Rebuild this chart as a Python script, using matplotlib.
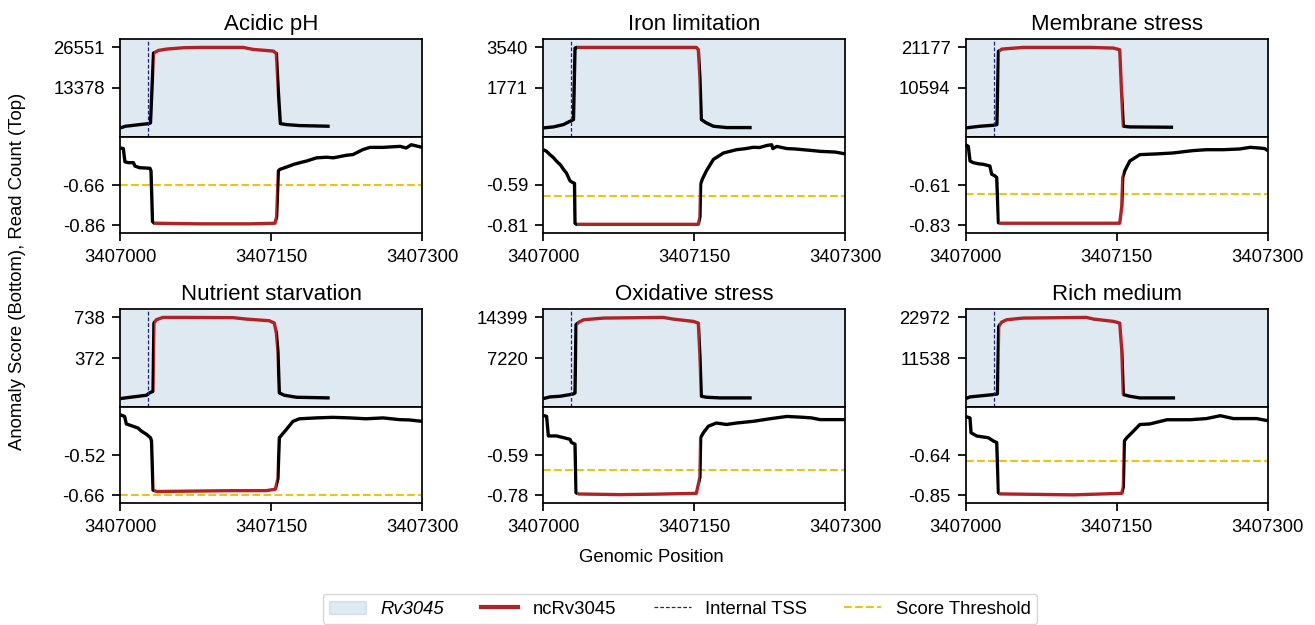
import matplotlib
matplotlib.use("Agg")
import matplotlib.pyplot as plt
from matplotlib.patches import Patch, Rectangle
from matplotlib.lines import Line2D
from matplotlib import transforms

plt.rcParams['font.family'] = ['Liberation Sans', 'DejaVu Sans']

START = 3407000
END = 3407300
TSS = 3407028
NC_START = 3407033
NC_END = 3407156
x_ticks = [3407000, 3407150, 3407300]

conditions = ['Acidic pH', 'Iron limitation', 'Membrane stress',
              'Nutrient starvation', 'Oxidative stress', 'Rich medium']

# (mid, max) shown on read-count axes, (min, mid) on score axes
read_ticks = [(13378, 26551), (1771, 3540), (10594, 21177),
              (372, 738), (7220, 14399), (11538, 22972)]
score_ticks = [(-0.86, -0.66), (-0.81, -0.59), (-0.83, -0.61),
               (-0.66, -0.52), (-0.78, -0.59), (-0.85, -0.64)]
thresholds = [-0.66, -0.65, -0.66, -0.66, -0.66, -0.67]

# read counts (top), positions are offsets from START
acid_top_pos = [0, 5, 28, 30, 33, 38, 46, 63, 80, 122, 132, 152, 155, 157, 159, 165, 178, 208]
acid_top_val = [415, 960, 1820, 2040, 24700, 25580, 26010, 26450, 26551, 26551, 25900, 25360, 24600, 12300, 1820, 1500, 1180, 960]
iron_top_pos = [0, 10, 20, 26.5, 30, 31.5, 33, 152, 154, 155.6, 157, 162, 169, 182, 207]
iron_top_val = [31, 75, 176, 321, 393, 3511, 3540, 3540, 3439, 2206, 393, 249, 104, 46, 46]
memb_top_pos = [0, 14, 27.5, 31, 32.5, 36, 57, 123.5, 146.7, 153, 155, 156.6, 163, 206]
memb_top_val = [183, 617, 877, 1051, 20136, 20743, 21177, 21177, 21003, 20570, 8425, 617, 443, 357]
nutr_top_pos = [0, 12.6, 26, 29, 32.5, 33.4, 35.8, 42.4, 62, 112, 125, 148, 153, 155, 156.6, 158, 163, 175, 208]
nutr_top_val = [6, 21, 36, 57, 72, 687, 717, 738, 738, 736, 723, 708, 687, 597, 432, 57, 36, 18, 12]
oxid_top_pos = [0, 6.6, 16.6, 26.5, 30, 31.5, 32.5, 35, 40, 60, 119, 129, 149, 154, 155.6, 157, 162, 175.5, 207]
oxid_top_val = [41, 336, 454, 747, 866, 1040, 13104, 13516, 13987, 14281, 14399, 14105, 13693, 13399, 7515, 454, 277, 160, 160]
rich_top_pos = [0, 4.3, 17.5, 27.5, 31.5, 32.8, 35.8, 40.7, 57, 120, 127, 147, 153, 155, 156.6, 163, 173, 208]
rich_top_val = [104, 572, 948, 1229, 1416, 20442, 21660, 22316, 22785, 22972, 22503, 21847, 21379, 13881, 1229, 760, 291, 291]

# anomaly scores (bottom)
acid_bot_pos = [0, 3, 4.6, 8, 13, 14.6, 19, 29.5, 30.5, 32, 33.8, 79, 129, 153.6, 155.3, 157, 158.6, 165, 172, 178.5,
                185, 195, 205, 211.6, 225, 231, 241, 248, 261, 271, 278, 284, 289, 300]
acid_bot_val = [-0.476, -0.479, -0.545, -0.549, -0.549, -0.566, -0.574, -0.577, -0.590, -0.842, -0.850, -0.853, -0.853,
                -0.850, -0.818, -0.590, -0.582, -0.571, -0.558, -0.549, -0.541, -0.525, -0.522, -0.525, -0.512, -0.509,
                -0.484, -0.473, -0.473, -0.470, -0.468, -0.476, -0.460, -0.473]
iron_bot_pos = [0, 3, 6.6, 10, 13, 17, 20, 23, 25, 26.5, 29, 31, 31.5, 33, 154, 155.6, 156.3, 158, 162, 169, 179, 192,
                200, 208.6, 215, 222, 227, 228, 232, 242, 250, 258, 268, 275, 290, 300]
iron_bot_val = [-0.397, -0.405, -0.424, -0.440, -0.459, -0.480, -0.504, -0.525, -0.549, -0.567, -0.576, -0.581, -0.799,
                -0.805, -0.805, -0.764, -0.585, -0.558, -0.513, -0.450, -0.415, -0.397, -0.392, -0.384, -0.385, -0.374,
                -0.370, -0.391, -0.379, -0.391, -0.393, -0.397, -0.402, -0.406, -0.410, -0.420]
memb_bot_pos = [0, 2.6, 4.3, 7.6, 12.6, 17.5, 24, 25.8, 29, 30.8, 32.5, 34, 153, 155, 156, 158, 163, 173, 190, 206,
                219.5, 226, 239, 256, 272.5, 282.5, 292, 297, 300]
memb_bot_val = [-0.390, -0.399, -0.479, -0.488, -0.494, -0.497, -0.506, -0.551, -0.560, -0.569, -0.816, -0.819, -0.819,
                -0.730, -0.569, -0.533, -0.479, -0.444, -0.440, -0.435, -0.426, -0.422, -0.417, -0.417, -0.413, -0.404,
                -0.408, -0.411, -0.422]
nutr_bot_pos = [0, 4.3, 6, 12.6, 17.5, 21, 26, 30, 31, 32.5, 36, 112, 145, 154, 156.6, 158, 165, 171.5, 178, 194.7,
                211, 228, 244, 261, 277.5, 287, 300]
nutr_bot_val = [-0.380, -0.386, -0.412, -0.420, -0.426, -0.437, -0.448, -0.460, -0.471, -0.642, -0.647, -0.644, -0.644,
                -0.639, -0.602, -0.460, -0.431, -0.403, -0.394, -0.391, -0.389, -0.391, -0.394, -0.391, -0.397, -0.398,
                -0.403]
oxid_bot_pos = [0, 3.3, 5, 13, 20, 26.5, 28, 31.5, 32.5, 35, 76, 109, 152, 155.6, 156.3, 159, 164, 172, 182, 192,
                208.6, 225, 242, 258, 266.6, 275, 300]
oxid_bot_val = [-0.403, -0.408, -0.500, -0.500, -0.508, -0.516, -0.531, -0.539, -0.768, -0.774, -0.777, -0.775, -0.771,
                -0.694, -0.508, -0.485, -0.454, -0.439, -0.446, -0.439, -0.431, -0.419, -0.408, -0.412, -0.415, -0.423,
                -0.423]
rich_bot_pos = [0, 4.3, 5.3, 11, 17.5, 22.5, 27.5, 30.8, 32.5, 34, 107, 155, 156.6, 157.6, 160, 165, 173, 183, 200,
                223, 239, 253, 266, 289, 300]
rich_bot_val = [-0.439, -0.447, -0.524, -0.541, -0.546, -0.550, -0.567, -0.575, -0.836, -0.843, -0.848, -0.840, -0.806,
                -0.567, -0.550, -0.524, -0.481, -0.478, -0.456, -0.456, -0.450, -0.435, -0.450, -0.450, -0.461]

top_pos = [acid_top_pos, iron_top_pos, memb_top_pos, nutr_top_pos, oxid_top_pos, rich_top_pos]
top_val = [acid_top_val, iron_top_val, memb_top_val, nutr_top_val, oxid_top_val, rich_top_val]
bot_pos = [acid_bot_pos, iron_bot_pos, memb_bot_pos, nutr_bot_pos, oxid_bot_pos, rich_bot_pos]
bot_val = [acid_bot_val, iron_bot_val, memb_bot_val, nutr_bot_val, oxid_bot_val, rich_bot_val]

W, H = 1315, 625
LINE_W = 2.4
RED = '#b22222'
GENE_COLOR = '#4682b4'
TSS_COLOR = '#1f1f8f'
THR_COLOR = '#f0c30f'
FS = 13.3

fig = plt.figure(figsize=(W / 100, H / 100), dpi=100)


def px_axes(x, y, w, h):
    return fig.add_axes([x / W, 1 - (y + h) / H, w / W, h / H])


def style(ax):
    for s in ax.spines.values():
        s.set_linewidth(1.25)
    ax.tick_params(labelsize=FS, length=6, width=1.25, pad=5)


def draw_curve(ax, xs, ys):
    # black outside ncRv3045, red inside; each copy clipped to its x-range
    trans = transforms.blended_transform_factory(ax.transData, ax.transAxes)
    pieces = [('black', START - 50, NC_START), (RED, NC_START, NC_END), ('black', NC_END, END + 50)]
    for color, x_from, x_to in pieces:
        ln, = ax.plot(xs, ys, color=color, lw=LINE_W, solid_joinstyle='round',
                      solid_capstyle='butt', zorder=3)
        ln.set_clip_path(Rectangle((x_from, 0), x_to - x_from, 1, transform=trans))


lefts = [120.3, 543.3, 965.7]
tops = [39.3, 309.3]

for i, name in enumerate(conditions):
    x0 = lefts[i % 3]
    y0 = tops[i // 3]
    ax_top = px_axes(x0, y0, 302, 97.4)
    ax_bot = px_axes(x0, y0 + 97.4, 302, 96.6)

    # read count
    mid, hi = read_ticks[i]
    lo = 2 * mid - hi
    r = hi - lo
    ax_top.set_xlim(START, END)
    ax_top.set_ylim(lo - 0.1 * r, hi + 0.1 * r)
    xs = [START + p for p in top_pos[i]]
    ax_top.axvspan(START, END, color=GENE_COLOR, alpha=0.17, lw=0, zorder=0)
    draw_curve(ax_top, xs, top_val[i])
    ax_top.axvline(TSS, color=TSS_COLOR, ls='--', lw=0.9, dashes=(3, 1.6), zorder=5)
    ax_top.set_yticks([mid, hi], labels=[str(mid), str(hi)])
    ax_top.set_title(name, fontsize=16, pad=7)
    style(ax_top)
    ax_top.tick_params(axis='x', bottom=False, labelbottom=False)

    # anomaly score
    lo, mid = score_ticks[i]
    hi = 2 * mid - lo
    r = hi - lo
    ax_bot.set_xlim(START, END)
    ax_bot.set_ylim(lo - 0.1 * r, hi + 0.1 * r)
    xs = [START + p for p in bot_pos[i]]
    draw_curve(ax_bot, xs, bot_val[i])
    ax_bot.axhline(thresholds[i], color=THR_COLOR, ls='--', lw=1.5, zorder=2)
    ax_bot.set_yticks([lo, mid], labels=['%.2f' % lo, '%.2f' % mid])
    ax_bot.set_xticks(x_ticks, labels=[str(t) for t in x_ticks])
    style(ax_bot)

fig.text(18 / W, 1 - 271 / H, 'Anomaly Score (Bottom), Read Count (Top)',
         rotation=90, ha='center', va='center', fontsize=FS)
fig.text(651.5 / W, 1 - 557 / H, 'Genomic Position', ha='center', va='center', fontsize=FS)

handles = [
    Patch(facecolor=GENE_COLOR, alpha=0.17, edgecolor=GENE_COLOR),
    Line2D([], [], color=RED, lw=3),
    Line2D([], [], color=TSS_COLOR, ls='--', lw=0.9, dashes=(3, 1.6)),
    Line2D([], [], color=THR_COLOR, ls='--', lw=1.5),
]
labels = ['Rv3045', 'ncRv3045', 'Internal TSS', 'Score Threshold']
leg = fig.legend(handles, labels, loc='center', bbox_to_anchor=(680 / W, 1 - 609 / H),
                 ncol=4, fontsize=FS, frameon=True, borderpad=0.35, handletextpad=0.8,
                 columnspacing=2.0)
leg.get_texts()[0].set_fontstyle('italic')

fig.savefig('out.png', dpi=100)
